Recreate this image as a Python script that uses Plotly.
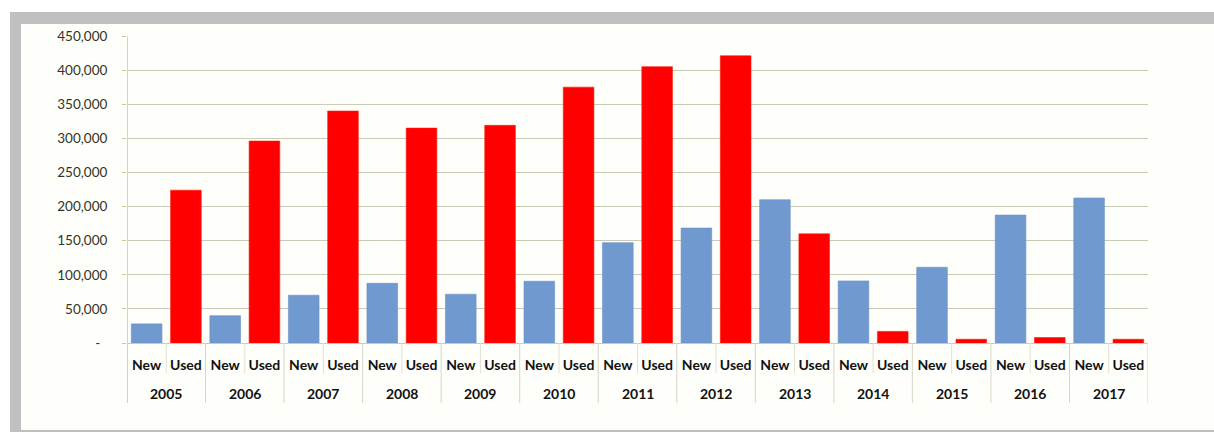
import plotly.graph_objects as go

# Annual vehicle sales, new vs. used
years = ["2005", "2006", "2007", "2008", "2009", "2010", "2011",
         "2012", "2013", "2014", "2015", "2016", "2017"]
new_sales = [28000, 40000, 70000, 87500, 71500, 90500, 147000,
             168500, 210000, 91000, 111000, 187500, 212500]
used_sales = [224000, 296000, 340000, 315000, 319000, 375000, 405000,
              421000, 160000, 17000, 5500, 8000, 5500]
kinds = ["New", "Used"]
y_ticks = [0, 50000, 100000, 150000, 200000, 250000, 300000, 350000, 400000, 450000]
y_tick_text = ["-\u00a0\u00a0"] + [f"{v:,}" for v in y_ticks[1:]]

W, H = 1214, 432
ML, MR, MT, MB = 127, 66, 36, 89
PW, PH = W - ML - MR, H - MT - MB


def px_x(px):
    return (px - ML) / PW


def px_y(py):
    return (H - MB - py) / PH


n = len(years)
x_new = [2 * i for i in range(n)]
x_used = [2 * i + 1 for i in range(n)]

fig = go.Figure()
fig.add_trace(go.Bar(x=x_new, y=new_sales, name="New", width=0.78,
                     marker=dict(color="#7099cf", line=dict(color="#6a90c4", width=0.6))))
fig.add_trace(go.Bar(x=x_used, y=used_sales, name="Used", width=0.78,
                     marker=dict(color="#ff0000", line=dict(color="#ff1a00", width=0.6))))

shapes = []
# outer grey frame and off-white panel
shapes.append(dict(type="rect", xref="paper", yref="paper", layer="below",
                   x0=px_x(10), x1=px_x(W + 20), y0=px_y(432), y1=px_y(12),
                   fillcolor="#c0c0c0", line=dict(width=0)))
shapes.append(dict(type="rect", xref="paper", yref="paper", layer="below",
                   x0=px_x(21), x1=px_x(W + 20), y0=px_y(430), y1=px_y(24),
                   fillcolor="#fefefb", line=dict(width=0)))

# value axis line running through the category label band
shapes.append(dict(type="line", xref="x", yref="paper", x0=-0.5, x1=-0.5,
                   y0=px_y(403), y1=1, line=dict(color="#c6cc93", width=1.5)))
# year dividers (full band height) and New/Used dividers (upper row)
for i in range(1, n + 1):
    xb = 2 * i - 0.5
    shapes.append(dict(type="line", xref="x", yref="paper", x0=xb, x1=xb,
                       y0=px_y(403), y1=px_y(343), line=dict(color="#d6d7c8", width=1)))
for i in range(n):
    xb = 2 * i + 0.5
    shapes.append(dict(type="line", xref="x", yref="paper", x0=xb, x1=xb,
                       y0=px_y(373), y1=px_y(343), line=dict(color="#e0e0d4", width=1)))

annotations = []
for i, yr in enumerate(years):
    annotations.append(dict(x=2 * i + 0.5, y=px_y(393), xref="x", yref="paper",
                            xanchor="center", yanchor="middle",
                            text=yr, showarrow=False,
                            font=dict(family="Lato", size=14, color="#111111", weight="bold")))

fig.update_layout(
    width=W, height=H,
    margin=dict(l=ML, r=MR, t=MT, b=MB),
    paper_bgcolor="#ffffff",
    plot_bgcolor="rgba(0,0,0,0)",
    showlegend=False,
    barmode="overlay",
    shapes=shapes,
    annotations=annotations,
    xaxis=dict(
        range=[-0.5, 2 * n - 0.5],
        tickvals=list(range(2 * n)),
        ticktext=[kinds[j % 2] for j in range(2 * n)],
        tickfont=dict(family="Lato", size=14, color="#111111", weight="bold"),
        ticks="", showgrid=False, showline=False, zeroline=False,
        ticklabelstandoff=12,
    ),
    yaxis=dict(
        range=[0, 450000],
        tickvals=y_ticks,
        ticktext=y_tick_text,
        tickfont=dict(family="Lato", size=13.5, color="#33331f"),
        showgrid=True, gridcolor="#cacbb6", gridwidth=1.3,
        zeroline=True, zerolinecolor="#cacbb6", zerolinewidth=1.3,
        showline=False,
        ticks="outside", ticklen=4, tickcolor="#c6cc93",
        ticklabelstandoff=12,
    ),
)

fig.write_html("out.html")
